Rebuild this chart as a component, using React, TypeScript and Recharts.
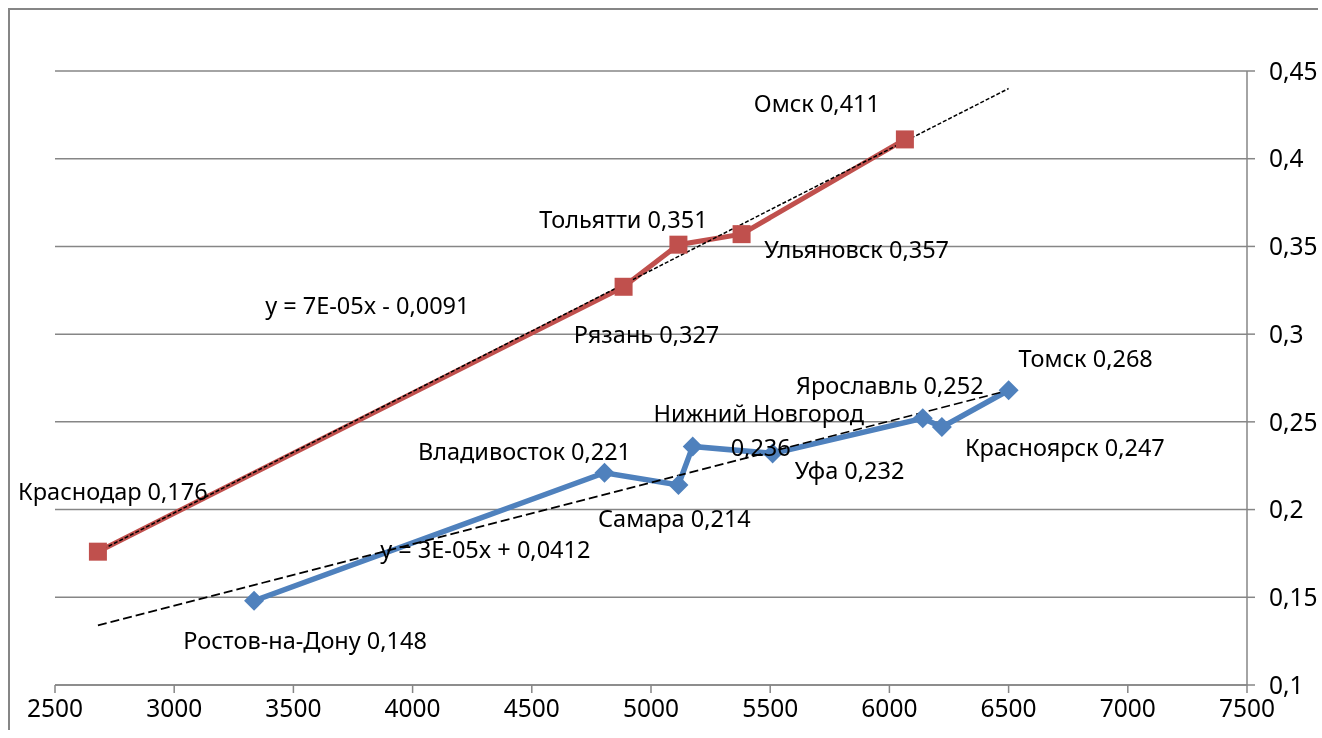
import React from 'react'
import {
  ComposedChart,
  Line,
  XAxis,
  YAxis,
  CartesianGrid,
  LabelList,
  ReferenceDot,
} from 'recharts'

// red series (squares)
const redCities = ['Краснодар', 'Рязань', 'Тольятти', 'Ульяновск', 'Омск']
const redX = [2680, 4885, 5115, 5380, 6065]
const redY = [0.176, 0.327, 0.351, 0.357, 0.411]

// blue series (diamonds)
const blueCities = [
  'Ростов-на-Дону',
  'Владивосток',
  'Самара',
  'Нижний Новгород',
  'Уфа',
  'Ярославль',
  'Красноярск',
  'Томск',
]
const blueX = [3335, 4805, 5115, 5175, 5510, 6140, 6220, 6500]
const blueY = [0.148, 0.221, 0.214, 0.236, 0.232, 0.252, 0.247, 0.268]

// linear trendlines, read at their ends
const trendX = [2680, 6500]
const redTrendY = [0.176, 0.44]
const blueTrendY = [0.134, 0.268]

const redEquation = 'y = 7E-05x - 0,0091'
const blueEquation = 'y = 3E-05x + 0,0412'

const xTicks = [2500, 3000, 3500, 4000, 4500, 5000, 5500, 6000, 6500, 7000, 7500]
const yTicks = [0.1, 0.15, 0.2, 0.25, 0.3, 0.35, 0.4, 0.45]

// label placement (pixels from the marker), kept apart from the data
const redLabelPos = [
  { dx: 15, dy: -61 },
  { dx: 23, dy: 47 },
  { dx: -55, dy: -26 },
  { dx: 115, dy: 15 },
  { dx: -88, dy: -36 },
]
const blueLabelPos = [
  { dx: 51, dy: 39 },
  { dx: -80, dy: -22 },
  { dx: -4, dy: 33 },
  { dx: 66, dy: -16, wrap: true },
  { dx: 77, dy: 17 },
  { dx: -33, dy: -33 },
  { dx: 123, dy: 20 },
  { dx: 77, dy: -32 },
]
const eqPos = { red: { x: 3810, y: 0.316 }, blue: { x: 4305, y: 0.177 } }

const FONT = '"Noto Sans", sans-serif'
const FS = 23.5
const TICK_FS = 24.5
const RED = '#C0504D'
const BLUE = '#4F81BD'
const GRID = '#868686'

const W = 1310
const H = 722

const comma = (v: number) => String(v).replace('.', ',')

const redData = redCities.map((name, i) => ({ name, x: redX[i], y: redY[i] }))
const blueData = blueCities.map((name, i) => ({ name, x: blueX[i], y: blueY[i] }))
const redTrend = trendX.map((x, i) => ({ x, y: redTrendY[i] }))
const blueTrend = trendX.map((x, i) => ({ x, y: blueTrendY[i] }))

const Square = (props: any) => {
  const { cx, cy } = props
  if (cx == null || cy == null) return null
  return <rect x={cx - 9} y={cy - 9} width={18} height={18} fill={RED} />
}

const Diamond = (props: any) => {
  const { cx, cy } = props
  if (cx == null || cy == null) return null
  const r = 10
  return (
    <polygon
      points={`${cx},${cy - r} ${cx + r},${cy} ${cx},${cy + r} ${cx - r},${cy}`}
      fill={BLUE}
    />
  )
}

const makeLabel = (data: any[], pos: any[]) => (props: any) => {
  const { x, y, index } = props
  const p = pos[index]
  const d = data[index]
  if (!p || !d) return null
  const cx = x + p.dx
  const cy = y + p.dy
  if (p.wrap) {
    return (
      <text x={cx} y={cy} textAnchor="middle" fontFamily={FONT} fontSize={FS} fill="#000">
        <tspan x={cx} dy={-17} dominantBaseline="central">{d.name}</tspan>
        <tspan x={cx + 2} dy={34} dominantBaseline="central">{comma(d.y)}</tspan>
      </text>
    )
  }
  return (
    <text
      x={cx}
      y={cy}
      textAnchor="middle"
      dominantBaseline="central"
      fontFamily={FONT}
      fontSize={FS}
      fill="#000"
    >
      {`${d.name} ${comma(d.y)}`}
    </text>
  )
}

export default function App() {
  return (
    <div style={{ position: 'fixed', left: 8, top: 8, width: W, height: H }}>
      {/* outer chart-area frame: only its top and left edges are in view */}
      <div
        style={{
          position: 'absolute',
          left: 0,
          top: 0,
          width: W,
          height: H,
          borderTop: `2px solid ${GRID}`,
          borderLeft: `2px solid ${GRID}`,
          boxSizing: 'border-box',
        }}
      />
      <ComposedChart
        width={W}
        height={H}
        margin={{ top: 63, right: 0, bottom: 0, left: 47 }}
      >
        <CartesianGrid horizontal vertical={false} stroke={GRID} strokeWidth={1.5} />
        <XAxis
          dataKey="x"
          type="number"
          domain={[2500, 7500]}
          ticks={xTicks}
          allowDataOverflow
          height={45}
          stroke={GRID}
          strokeWidth={1.5}
          tickSize={8}
          tickMargin={7}
          tick={{ fill: '#000', fontSize: TICK_FS, fontFamily: FONT }}
        />
        <YAxis
          dataKey="y"
          type="number"
          orientation="right"
          domain={[0.1, 0.45]}
          ticks={yTicks}
          allowDataOverflow
          width={W - 1239}
          stroke={GRID}
          strokeWidth={1.5}
          tickSize={8}
          tickMargin={14}
          tickFormatter={comma}
          tick={{ fill: '#000', fontSize: TICK_FS, fontFamily: FONT, textAnchor: 'start' }}
        />
        <Line
          data={redData}
          dataKey="y"
          stroke={RED}
          strokeWidth={5}
          dot={<Square />}
          activeDot={false}
          isAnimationActive={false}
        >
          <LabelList dataKey="y" content={makeLabel(redData, redLabelPos)} />
        </Line>
        <Line
          data={blueData}
          dataKey="y"
          stroke={BLUE}
          strokeWidth={5.5}
          dot={<Diamond />}
          activeDot={false}
          isAnimationActive={false}
        >
          <LabelList dataKey="y" content={makeLabel(blueData, blueLabelPos)} />
        </Line>
        <Line
          data={redTrend}
          dataKey="y"
          stroke="#000"
          strokeWidth={1.5}
          strokeDasharray="4 2"
          dot={false}
          activeDot={false}
          isAnimationActive={false}
        />
        <Line
          data={blueTrend}
          dataKey="y"
          stroke="#000"
          strokeWidth={1.6}
          strokeDasharray="9 4"
          dot={false}
          activeDot={false}
          isAnimationActive={false}
        />
        <ReferenceDot
          x={eqPos.red.x}
          y={eqPos.red.y}
          r={0}
          fill="none"
          stroke="none"
          label={{ value: redEquation, position: 'center', fill: '#000', fontSize: FS, fontFamily: FONT }}
        />
        <ReferenceDot
          x={eqPos.blue.x}
          y={eqPos.blue.y}
          r={0}
          fill="none"
          stroke="none"
          label={{ value: blueEquation, position: 'center', fill: '#000', fontSize: FS, fontFamily: FONT }}
        />
      </ComposedChart>
    </div>
  )
}
